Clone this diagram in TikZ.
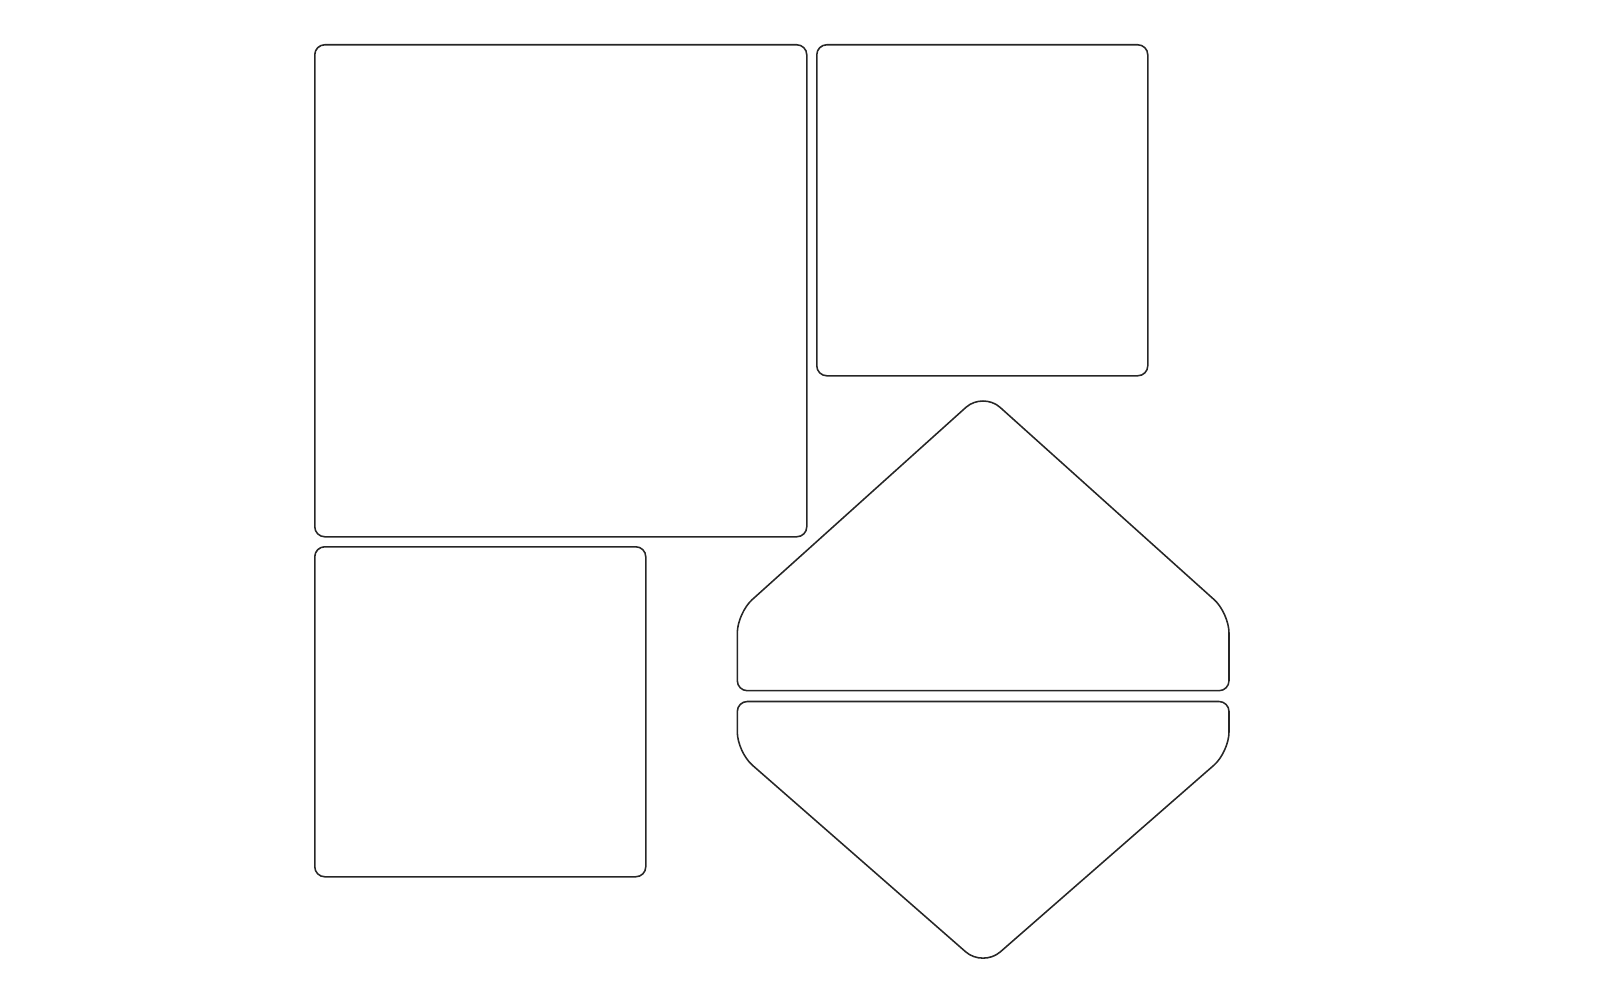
\documentclass[tikz,border=0pt]{standalone}
\begin{document}
\begin{tikzpicture}[x=1pt,y=-1pt,
  outline/.style={draw=black!85,line width=1.55pt},
  panel/.style={outline,rectangle,rounded corners=10pt,inner sep=0pt,anchor=north west}]
\useasboundingbox (0,0) rectangle (1600,1000);
\node[panel,minimum width=492pt,minimum height=492pt] (big) at (314,44) {};
\node[panel,minimum width=331pt,minimum height=331pt] (topright) at (816,44) {};
\node[panel,minimum width=331pt,minimum height=330pt] (bottomleft) at (314,546) {};
% upper house shape
\draw[outline,rounded corners=10pt] (983,690.7) -- (737.3,690.7)
  [rounded corners=20pt] -- (737.3,613)
  [rounded corners=23pt] -- (983,392)
  [rounded corners=20pt] -- (1229,613)
  [rounded corners=10pt] -- (1229,690.7) -- cycle;
% lower house shape
\draw[outline,rounded corners=10pt] (983,701.5) -- (1229,701.5)
  [rounded corners=20pt] -- (1229,752)
  [rounded corners=23pt] -- (983,967)
  [rounded corners=20pt] -- (737.3,752)
  [rounded corners=10pt] -- (737.3,701.5) -- cycle;
\end{tikzpicture}
\end{document}
